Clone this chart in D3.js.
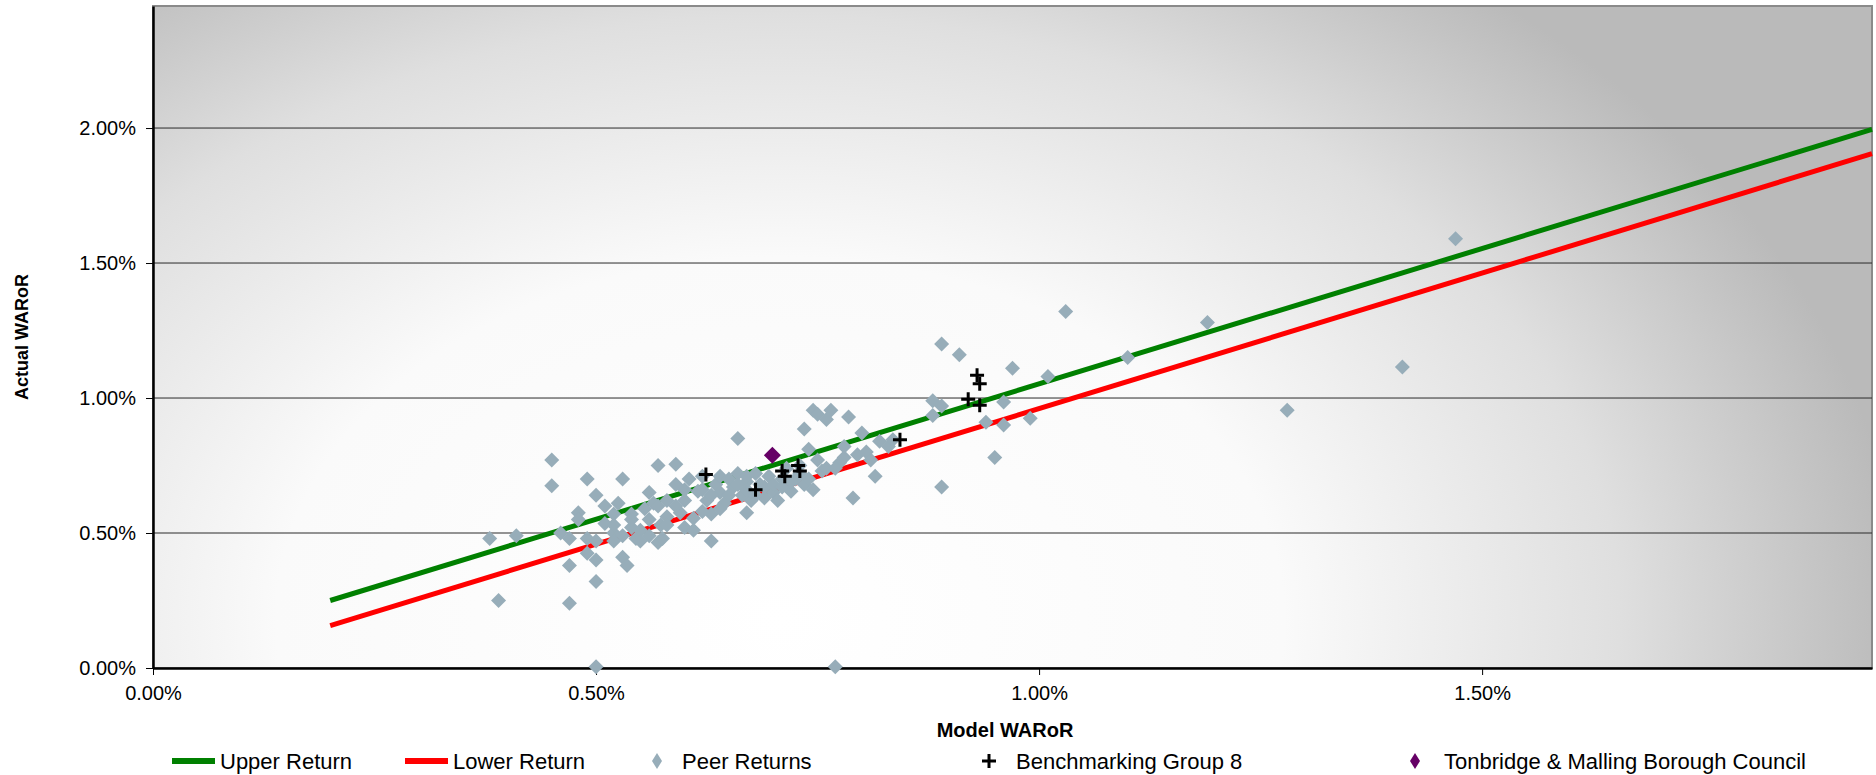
<!DOCTYPE html>
<html>
<head>
<meta charset="utf-8">
<script src="https://cdnjs.cloudflare.com/ajax/libs/d3/7.8.5/d3.min.js"></script>
<style>
    body { margin: 0; background: white; }
    text { font-family: "Liberation Sans", Arial, sans-serif; fill: black; }
</style>
</head>
<body>
<div id="chart"></div>
<script>

//Peer returns (model WARoR %, actual WARoR %)
var peerX = [1.47, 1.19, 1.41, 1.28, 1.10, 1.03, 1.01, 0.89, 0.91, 0.97, 0.88, 0.88, 0.89, 0.96, 0.94, 0.96, 0.99, 0.95, 0.89, 0.77, 0.50,
    0.38, 0.41, 0.39, 0.45, 0.45, 0.47, 0.47, 0.46, 0.47, 0.48, 0.48, 0.49, 0.49, 0.49, 0.50, 0.50, 0.50, 0.51, 0.51, 0.52, 0.52, 0.52,
    0.525, 0.53, 0.53, 0.535, 0.54, 0.54, 0.545, 0.55, 0.555, 0.56, 0.56, 0.565, 0.57, 0.57, 0.573, 0.575, 0.58, 0.58, 0.59, 0.59,
    0.595, 0.60, 0.60, 0.605, 0.61, 0.61, 0.615, 0.62, 0.625, 0.63, 0.63, 0.635, 0.64, 0.64, 0.645, 0.65, 0.655, 0.66, 0.66, 0.665,
    0.67, 0.67, 0.675, 0.68, 0.685, 0.69, 0.695, 0.70, 0.705, 0.71, 0.715, 0.72, 0.725, 0.73, 0.735, 0.735, 0.74, 0.745, 0.745, 0.75,
    0.755, 0.76, 0.765, 0.775, 0.78, 0.785, 0.79, 0.795, 0.80, 0.805, 0.815, 0.82, 0.83, 0.835,
    0.60, 0.62, 0.63, 0.64, 0.66, 0.67, 0.68, 0.69, 0.70, 0.72, 0.74, 0.76, 0.58, 0.56, 0.54, 0.53, 0.55, 0.57, 0.59, 0.62, 0.65,
    0.67, 0.71, 0.73, 0.75, 0.77, 0.78, 0.81, 0.52, 0.50];
var peerY = [1.59, 1.28, 1.115, 0.955, 1.15, 1.32, 1.08, 1.20, 1.16, 1.11, 0.99, 0.935, 0.97, 0.985, 0.91, 0.90, 0.925, 0.78, 0.67, 0.005, 0.005,
    0.48, 0.49, 0.25, 0.77, 0.675, 0.24, 0.38, 0.50, 0.48, 0.575, 0.55, 0.70, 0.48, 0.425, 0.40, 0.32, 0.64, 0.60, 0.535, 0.50, 0.47, 0.57,
    0.61, 0.70, 0.41, 0.38, 0.52, 0.57, 0.48, 0.51, 0.59, 0.49, 0.65, 0.61, 0.465, 0.75, 0.53, 0.48, 0.56, 0.62, 0.755, 0.68,
    0.575, 0.52, 0.62, 0.70, 0.555, 0.51, 0.655, 0.71, 0.62, 0.47, 0.57, 0.68, 0.71, 0.65, 0.61, 0.70, 0.67, 0.72, 0.85, 0.64,
    0.575, 0.69, 0.62, 0.72, 0.68, 0.63, 0.71, 0.65, 0.62, 0.70, 0.74, 0.655, 0.70, 0.72, 0.68, 0.885, 0.81, 0.955, 0.66, 0.94,
    0.73, 0.92, 0.955, 0.76, 0.78, 0.93, 0.63, 0.79, 0.87, 0.80, 0.71, 0.84, 0.82, 0.845,
    0.66, 0.58, 0.64, 0.59, 0.68, 0.66, 0.64, 0.67, 0.68, 0.69, 0.70, 0.74, 0.53, 0.55, 0.55, 0.49, 0.47, 0.60, 0.60, 0.66, 0.64,
    0.71, 0.67, 0.75, 0.77, 0.74, 0.82, 0.77, 0.53, 0.47];

//Benchmarking group 8
var benchX = [0.624, 0.68, 0.71, 0.713, 0.728, 0.73, 0.843, 0.92, 0.93, 0.933, 0.933];
var benchY = [0.717, 0.66, 0.73, 0.71, 0.75, 0.73, 0.845, 0.995, 1.084, 1.053, 0.973];

//Tonbridge & Malling Borough Council
var councilX = [0.699];
var councilY = [0.788];

//Upper and lower return lines (end points)
var lineX = [0.2, 1.94];
var upperY = [0.25, 1.995];
var lowerY = [0.157, 1.905];

//Axis ticks
var xTicks = [0, 0.5, 1.0, 1.5];
var yTicks = [0, 0.5, 1.0, 1.5, 2.0];

var legendKeys = ["Upper Return", "Lower Return", "Peer Returns", "Benchmarking Group 8", "Tonbridge & Malling Borough Council"];

var makeChart = function() {

    //Width and Height
    var w = 1876;
    var h = 775;
    var margin = {top: 6, right: 4, bottom: 107, left: 153};

    var x = d3.scaleLinear().domain([0, 1.94]).range([margin.left, w - margin.right]);
    var y = d3.scaleLinear().domain([0, 2.452]).range([h - margin.bottom, margin.top]);

    var pct = d3.format(".2f");

    var chart = d3.select("#chart")
        .append("svg")
        .attr("width", w)
        .attr("height", h);

    //Background gradient of the plot area: light near the lower left, grey to the corners
    var cx = 780, cy = 620;
    var defs = chart.append("defs");
    var grad = defs.append("radialGradient")
        .attr("id", "bg")
        .attr("gradientUnits", "userSpaceOnUse")
        .attr("cx", cx).attr("cy", cy).attr("r", 1120)
        .attr("gradientTransform", "translate(" + cx + "," + cy + ") scale(1,0.72) translate(" + (-cx) + "," + (-cy) + ")");
    grad.append("stop").attr("offset", "0").attr("stop-color", "#ffffff");
    grad.append("stop").attr("offset", "0.45").attr("stop-color", "#fafafa");
    grad.append("stop").attr("offset", "0.75").attr("stop-color", "#dfdfdf");
    grad.append("stop").attr("offset", "1").attr("stop-color", "#bababa");

    chart.append("rect")
        .attr("x", margin.left)
        .attr("y", margin.top)
        .attr("width", w - margin.left - margin.right)
        .attr("height", h - margin.top - margin.bottom)
        .attr("fill", "url(#bg)")
        .attr("stroke", "#8a8a8a")
        .attr("stroke-width", 2);

    //Gridlines
    chart.append("g")
        .attr("class", "grid")
        .selectAll("line")
        .data(yTicks.slice(1))
        .enter()
        .append("line")
        .attr("x1", margin.left)
        .attr("x2", w - margin.right)
        .attr("y1", d => y(d))
        .attr("y2", d => y(d))
        .attr("stroke", "#2a2a2a")
        .attr("stroke-width", 1);

    //Axes
    var xAxis = chart.append("g")
        .attr("transform", "translate(0," + (h - margin.bottom) + ")")
        .call(d3.axisBottom(x).tickValues(xTicks).tickSize(7).tickSizeOuter(0).tickFormat(d => pct(d) + "%"));

    var yAxis = chart.append("g")
        .attr("transform", "translate(" + margin.left + ",0)")
        .call(d3.axisLeft(y).tickValues(yTicks).tickSize(7).tickSizeOuter(0).tickFormat(d => pct(d) + "%"));

    [xAxis, yAxis].forEach(function(a) {
        a.select(".domain").attr("stroke", "black").attr("stroke-width", 2.5);
        a.selectAll(".tick line").attr("stroke", "black").attr("stroke-width", 1);
        a.selectAll(".tick text")
            .style("font-family", "Liberation Sans, Arial, sans-serif")
            .style("font-size", "20px");
    });
    xAxis.selectAll(".tick text").attr("dy", "1.1em");
    yAxis.selectAll(".tick text").attr("x", -17);

    //Axis titles
    chart.append("text")
        .attr("x", 1005)
        .attr("y", 737)
        .attr("text-anchor", "middle")
        .style("font-size", "20px")
        .style("font-weight", "bold")
        .text("Model WARoR");

    chart.append("text")
        .attr("transform", "translate(28," + (margin.top + h - margin.bottom) / 2 + ") rotate(-90)")
        .attr("text-anchor", "middle")
        .style("font-size", "18px")
        .style("font-weight", "bold")
        .text("Actual WARoR");

    //Upper and lower return lines
    var line = d3.line()
        .x(d => x(d[0]))
        .y(d => y(d[1]));

    chart.append("path")
        .datum(lineX.map((d, i) => [d, upperY[i]]))
        .attr("d", line)
        .attr("fill", "none")
        .attr("stroke", "#008000")
        .attr("stroke-width", 5);

    chart.append("path")
        .datum(lineX.map((d, i) => [d, lowerY[i]]))
        .attr("d", line)
        .attr("fill", "none")
        .attr("stroke", "#ff0000")
        .attr("stroke-width", 5);

    //Diamond and plus shapes
    var diamond = function(rx, ry) {
        return "M0," + (-ry) + "L" + rx + ",0L0," + ry + "L" + (-rx) + ",0Z";
    };
    var plus = "M-7,0H7M0,-7V7";

    //Peer returns
    chart.append("g")
        .attr("class", "peers")
        .selectAll("path")
        .data(peerX.map((d, i) => [d, peerY[i]]))
        .enter()
        .append("path")
        .attr("d", diamond(7.5, 7.5))
        .attr("transform", d => "translate(" + x(d[0]) + "," + y(d[1]) + ")")
        .attr("fill", "#97adb9");

    //Benchmarking group
    chart.append("g")
        .attr("class", "bench")
        .selectAll("path")
        .data(benchX.map((d, i) => [d, benchY[i]]))
        .enter()
        .append("path")
        .attr("d", plus)
        .attr("transform", d => "translate(" + x(d[0]) + "," + y(d[1]) + ")")
        .attr("stroke", "black")
        .attr("stroke-width", 3);

    //Council
    chart.append("g")
        .attr("class", "council")
        .selectAll("path")
        .data(councilX.map((d, i) => [d, councilY[i]]))
        .enter()
        .append("path")
        .attr("d", diamond(8.5, 8.5))
        .attr("transform", d => "translate(" + x(d[0]) + "," + y(d[1]) + ")")
        .attr("fill", "#660066");

    //Legend
    var lgY = 761;
    var lgX = [172, 405, 657, 989, 1415];
    var lgText = [220, 453, 682, 1016, 1444];
    var legend = chart.append("g").attr("class", "legend");

    legend.append("line").attr("x1", lgX[0]).attr("x2", lgX[0] + 43).attr("y1", lgY).attr("y2", lgY)
        .attr("stroke", "#008000").attr("stroke-width", 6);
    legend.append("line").attr("x1", lgX[1]).attr("x2", lgX[1] + 43).attr("y1", lgY).attr("y2", lgY)
        .attr("stroke", "#ff0000").attr("stroke-width", 6);
    legend.append("path").attr("d", diamond(5, 8)).attr("transform", "translate(" + lgX[2] + "," + lgY + ")")
        .attr("fill", "#97adb9");
    legend.append("path").attr("d", plus).attr("transform", "translate(" + lgX[3] + "," + lgY + ")")
        .attr("stroke", "black").attr("stroke-width", 3);
    legend.append("path").attr("d", diamond(5, 8)).attr("transform", "translate(" + lgX[4] + "," + lgY + ")")
        .attr("fill", "#660066");

    legend.selectAll("text")
        .data(legendKeys)
        .enter()
        .append("text")
        .attr("x", (d, i) => lgText[i])
        .attr("y", lgY)
        .attr("dy", "0.36em")
        .style("font-size", "22px")
        .text(d => d);
}

makeChart();
</script>
</body>
</html>
